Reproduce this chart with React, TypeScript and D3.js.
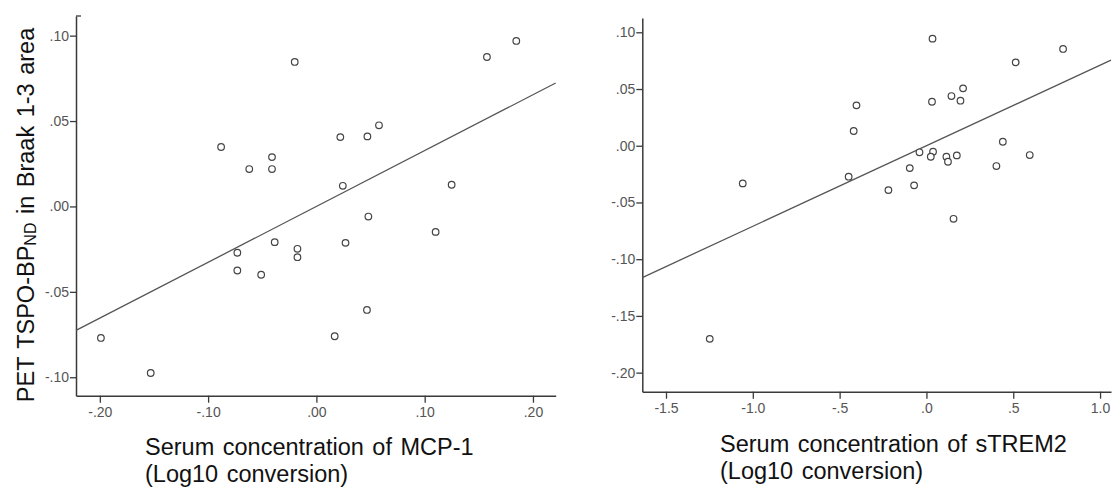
import React, { useEffect, useRef } from 'react';
import * as d3 from 'd3';

// MCP-1 panel (log10 serum concentration vs TSPO-BPnd)
const mcpX = [-0.199, -0.153, -0.088, -0.073, -0.073, -0.062, -0.051, -0.041, -0.041, -0.0385, -0.020, -0.0175, -0.0175, 0.0169, 0.0221, 0.0244, 0.0269, 0.0471, 0.0480, 0.0467, 0.0578, 0.1101, 0.1249, 0.1575, 0.1846];
const mcpY = [-0.077, -0.0975, 0.0348, -0.0271, -0.0375, 0.0219, -0.040, 0.0289, 0.0219, -0.0209, 0.0846, -0.0248, -0.0297, -0.076, 0.0406, 0.0121, -0.0213, 0.041, -0.0059, -0.0606, 0.0475, -0.0149, 0.0127, 0.0875, 0.0969];
const mcpFit = { slope: 0.327, intercept: 0.0 };
const mcpXTicks = [-0.2, -0.1, 0, 0.1, 0.2];
const mcpYTicks = [-0.1, -0.05, 0, 0.05, 0.1];

// sTREM2 panel
const tremX = [-1.058, 0.035, 0.787, 0.514, 0.211, 0.144, 0.196, 0.032, -0.403, -0.419, 0.440, -0.040, 0.038, 0.025, 0.115, 0.124, 0.175, 0.595, 0.403, -0.096, -0.448, -0.071, -0.219, 0.156, -1.248];
const tremY = [-0.0332, 0.0944, 0.0853, 0.0735, 0.0506, 0.0438, 0.0397, 0.0388, 0.0356, 0.0130, 0.0035, -0.0058, -0.0053, -0.0097, -0.0097, -0.0141, -0.0085, -0.0082, -0.0179, -0.0197, -0.0273, -0.0349, -0.0391, -0.0644, -0.1702];
const tremFit = { slope: 0.071, intercept: 0.0 };
const tremXTicks = [-1.5, -1.0, -0.5, 0, 0.5, 1.0];
const tremYTicks = [-0.2, -0.15, -0.1, -0.05, 0, 0.05, 0.1];

const FONT = '"Liberation Sans", Arial, sans-serif';

// SPSS style: drop the leading zero ("-0.05" -> "-.05")
const spss = (digits: number) => (v: number) => v.toFixed(digits).replace(/^(-?)0\./, '$1.');

const Panel = ({ xs, ys, fit, xTicks, yTicks, xDomain, yDomain, xRange, yRange, xDigits, yDigits, topStub }) => {
    const gRef = useRef(null);

    useEffect(() => {
        const g = d3.select(gRef.current);
        g.selectAll('*').remove();

        const x = d3.scaleLinear().domain(xDomain).range(xRange);
        const y = d3.scaleLinear().domain(yDomain).range(yRange);

        const xAxis = d3.axisBottom(x).tickValues(xTicks).tickFormat(spss(xDigits)).tickSize(7).tickSizeOuter(0).tickPadding(4);
        const yAxis = d3.axisLeft(y).tickValues(yTicks).tickFormat(spss(yDigits)).tickSize(6).tickSizeOuter(0).tickPadding(1);

        const ax = g.append('g').attr('transform', `translate(0, ${yRange[0]})`).call(xAxis);
        const ay = g.append('g').attr('transform', `translate(${xRange[0]}, 0)`).call(yAxis);

        [ax, ay].forEach(a => {
            a.select('.domain').attr('stroke', '#3a3a3a').attr('stroke-width', 1.5);
            a.selectAll('.tick line').attr('stroke', '#3a3a3a').attr('stroke-width', 1.3);
            a.selectAll('.tick text').attr('fill', '#555').style('font-size', '14px').style('font-family', FONT);
        });

        if (topStub) {
            g.append('line')
                .attr('x1', xRange[0]).attr('x2', xRange[0] + 5)
                .attr('y1', yRange[1]).attr('y2', yRange[1])
                .attr('stroke', '#3a3a3a').attr('stroke-width', 1.3);
        }

        const line = d3.line<number>().x(d => x(d)).y(d => y(fit.intercept + fit.slope * d));
        g.append('path')
            .attr('d', line(xDomain))
            .attr('fill', 'none')
            .attr('stroke', '#555')
            .attr('stroke-width', 1.3);

        g.selectAll('.pt')
            .data(xs.map((v, i) => [v, ys[i]]))
            .join('circle')
            .attr('class', 'pt')
            .attr('cx', d => x(d[0]))
            .attr('cy', d => y(d[1]))
            .attr('r', 3.3)
            .attr('fill', 'white')
            .attr('stroke', '#444')
            .attr('stroke-width', 1.2);
    }, []);

    return <g ref={gRef} />;
};

export default function App() {
    const title = { fontFamily: FONT, fontSize: 23.5, fill: '#111', wordSpacing: 2 };
    return (
        <svg width={1115} height={488} style={{ position: 'absolute', left: 0, top: 0, background: 'white' }}>
            <Panel xs={mcpX} ys={mcpY} fit={mcpFit} xTicks={mcpXTicks} yTicks={mcpYTicks}
                xDomain={[-0.222, 0.221]} yDomain={[-0.1108, 0.1115]}
                xRange={[76, 555.7]} yRange={[395.7, 16]} xDigits={2} yDigits={2} topStub />
            <Panel xs={tremX} ys={tremY} fit={tremFit} xTicks={tremXTicks} yTicks={tremYTicks}
                xDomain={[-1.6365, 1.063]} yDomain={[-0.2168, 0.1126]}
                xRange={[642.3, 1111]} yRange={[391.7, 18]} xDigits={1} yDigits={2} topStub={false} />

            <text transform="translate(33.5, 215) rotate(-90)" textAnchor="middle" style={title}>
                PET TSPO-BP<tspan fontSize={16} dy={2}>ND</tspan><tspan dy={-2}> in Braak 1-3 area</tspan>
            </text>

            <text x={145} y={455} style={title}>Serum concentration of MCP-1</text>
            <text x={145} y={482} style={title}>(Log10 conversion)</text>
            <text x={720} y={451.5} style={title}>Serum concentration of sTREM2</text>
            <text x={720} y={479} style={title}>(Log10 conversion)</text>
        </svg>
    );
}
